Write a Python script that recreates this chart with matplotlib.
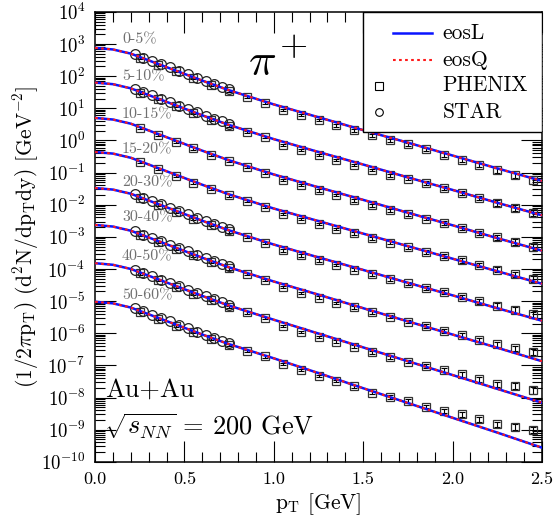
import numpy as np
import matplotlib
matplotlib.use('Agg')
import matplotlib.pyplot as plt
from matplotlib.ticker import LogLocator, MultipleLocator, NullFormatter

plt.rcParams['font.family'] = ['cmr10', 'DejaVu Serif']
plt.rcParams['mathtext.fontset'] = 'cm'
plt.rcParams['axes.formatter.use_mathtext'] = True

centralities = ['0-5%', '5-10%', '10-15%', '15-20%', '20-30%', '30-40%', '40-50%', '50-60%']

# hydro curves (log10 of yield)
pt_curve = [0.0, 0.1, 0.2, 0.3, 0.4, 0.5, 0.6, 0.75, 1.0, 1.25, 1.5, 1.75, 2.0, 2.25, 2.5]
eosL_0_5 = [2.88, 2.83, 2.70, 2.49, 2.28, 2.07, 1.86, 1.56, 1.12, 0.72, 0.32, -0.07, -0.47, -0.87, -1.26]
eosL_5_10 = [1.80, 1.75, 1.62, 1.41, 1.20, 0.99, 0.78, 0.48, 0.04, -0.36, -0.75, -1.15, -1.54, -1.94, -2.33]
eosL_10_15 = [0.70, 0.65, 0.52, 0.31, 0.10, -0.11, -0.32, -0.62, -1.06, -1.46, -1.85, -2.25, -2.64, -3.04, -3.43]
eosL_15_20 = [-0.36, -0.41, -0.54, -0.75, -0.96, -1.17, -1.38, -1.68, -2.12, -2.51, -2.90, -3.29, -3.68, -4.07, -4.46]
eosL_20_30 = [-1.48, -1.53, -1.66, -1.87, -2.08, -2.29, -2.50, -2.80, -3.24, -3.64, -4.03, -4.43, -4.82, -5.22, -5.61]
eosL_30_40 = [-2.63, -2.68, -2.81, -3.02, -3.23, -3.44, -3.65, -3.95, -4.39, -4.80, -5.22, -5.63, -6.04, -6.45, -6.87]
eosL_40_50 = [-3.82, -3.87, -4.00, -4.21, -4.42, -4.63, -4.84, -5.14, -5.58, -6.01, -6.44, -6.87, -7.30, -7.73, -8.16]
eosL_50_60 = [-5.02, -5.07, -5.20, -5.41, -5.62, -5.83, -6.04, -6.34, -6.78, -7.24, -7.71, -8.17, -8.63, -9.09, -9.56]
eosL = [eosL_0_5, eosL_5_10, eosL_10_15, eosL_15_20, eosL_20_30, eosL_30_40, eosL_40_50, eosL_50_60]
# eosQ is indistinguishable from eosL at this resolution
eosQ = eosL

# PHENIX data (log10)
pt_phenix = [0.25, 0.35, 0.45, 0.55, 0.65, 0.75, 0.85, 0.95, 1.05, 1.15, 1.25, 1.35,
             1.45, 1.55, 1.65, 1.75, 1.85, 1.95, 2.05, 2.15, 2.25, 2.35, 2.45]
phenix_0_5 = [2.57, 2.36, 2.15, 1.94, 1.73, 1.53, 1.35, 1.18, 0.95, 0.79, 0.63, 0.47, 0.31, 0.16, 0.00, -0.12, -0.28, -0.44, -0.60, -0.76, -0.92, -1.08, -1.24]
phenix_5_10 = [1.49, 1.28, 1.07, 0.86, 0.65, 0.45, 0.27, 0.10, -0.13, -0.29, -0.45, -0.60, -0.76, -0.92, -1.08, -1.19, -1.33, -1.48, -1.63, -1.78, -1.94, -2.09, -2.25]
phenix_10_15 = [0.39, 0.18, -0.04, -0.25, -0.45, -0.65, -0.83, -1.00, -1.23, -1.39, -1.55, -1.70, -1.86, -2.02, -2.18, -2.29, -2.43, -2.57, -2.72, -2.87, -3.02, -3.16, -3.32]
phenix_15_20 = [-0.68, -0.89, -1.10, -1.31, -1.51, -1.71, -1.89, -2.06, -2.29, -2.44, -2.60, -2.75, -2.89, -3.04, -3.18, -3.32, -3.46, -3.59, -3.73, -3.87, -4.02, -4.16, -4.30]
phenix_20_30 = [-1.80, -2.01, -2.22, -2.43, -2.63, -2.83, -3.01, -3.18, -3.42, -3.58, -3.73, -3.87, -4.02, -4.16, -4.31, -4.45, -4.58, -4.72, -4.86, -5.00, -5.14, -5.27, -5.41]
phenix_30_40 = [-2.95, -3.16, -3.37, -3.58, -3.78, -3.98, -4.16, -4.33, -4.57, -4.74, -4.89, -5.05, -5.19, -5.35, -5.49, -5.64, -5.78, -5.93, -6.06, -6.20, -6.33, -6.46, -6.58]
phenix_40_50 = [-4.14, -4.35, -4.56, -4.77, -4.97, -5.17, -5.35, -5.52, -5.77, -5.95, -6.12, -6.26, -6.42, -6.59, -6.74, -6.88, -7.01, -7.14, -7.28, -7.43, -7.59, -7.64, -7.77]
phenix_50_60 = [-5.34, -5.55, -5.76, -5.97, -6.17, -6.37, -6.55, -6.72, -6.96, -7.15, -7.33, -7.49, -7.65, -7.85, -7.98, -8.11, -8.28, -8.42, -8.52, -8.67, -8.83, -8.91, -9.01]
phenix = [phenix_0_5, phenix_5_10, phenix_10_15, phenix_15_20, phenix_20_30, phenix_30_40, phenix_40_50, phenix_50_60]
phenix_relerr = [0.08, 0.08, 0.08, 0.08, 0.08, 0.08, 0.08, 0.08, 0.08, 0.08, 0.09, 0.09,
                 0.10, 0.10, 0.11, 0.12, 0.13, 0.14, 0.15, 0.16, 0.18, 0.20, 0.22]

# STAR data (log10), no 10-15% and 15-20%
pt_star = [0.225, 0.27, 0.32, 0.37, 0.42, 0.47, 0.52, 0.57, 0.62, 0.665, 0.71, 0.75]
star_0_5 = [2.68, 2.58, 2.48, 2.37, 2.27, 2.16, 2.06, 1.95, 1.85, 1.76, 1.67, 1.59]
star_5_10 = [1.60, 1.50, 1.40, 1.29, 1.19, 1.08, 0.98, 0.87, 0.77, 0.68, 0.59, 0.51]
star_20_30 = [-1.68, -1.78, -1.88, -1.99, -2.09, -2.20, -2.30, -2.41, -2.51, -2.60, -2.69, -2.77]
star_30_40 = [-2.83, -2.93, -3.03, -3.14, -3.24, -3.35, -3.45, -3.56, -3.66, -3.75, -3.84, -3.92]
star_40_50 = [-4.02, -4.12, -4.22, -4.33, -4.43, -4.54, -4.64, -4.75, -4.85, -4.94, -5.03, -5.11]
star_50_60 = [-5.22, -5.32, -5.42, -5.53, -5.63, -5.74, -5.84, -5.95, -6.05, -6.14, -6.23, -6.31]
star = [star_0_5, star_5_10, star_20_30, star_30_40, star_40_50, star_50_60]

label_logy = [3.13, 1.98, 0.80, -0.29, -1.32, -2.41, -3.62, -4.81]

fig = plt.figure(figsize=(5.53, 5.16), dpi=100)
ax = fig.add_axes([0.172, 0.105, 0.808, 0.872])
ax.set_yscale('log')

for i in range(len(centralities)):
    y = 10.0 ** np.array(phenix[i])
    ax.errorbar(pt_phenix, y, yerr=y * np.array(phenix_relerr), fmt='none',
                ecolor='black', elinewidth=0.8, capsize=2.2, capthick=0.8, zorder=2)
    ax.plot(pt_phenix, y, 's', ms=6.2, mfc='none', mec='#333333', mew=0.9, zorder=2)
    ax.plot(pt_curve, 10.0 ** np.array(eosL[i]), '-', color='#0a14ff', lw=1.8, zorder=3)
    ax.plot(pt_curve, 10.0 ** np.array(eosQ[i]), color='#ff1a1a', lw=1.5,
            ls=(0, (1.3, 1.6)), zorder=4)
    ax.text(0.15, 10 ** label_logy[i], centralities[i], color='#707070',
            fontsize=11.5, va='center', ha='left')

for s in star:
    ax.plot(pt_star, 10.0 ** np.array(s), 'o', ms=7, mfc='none', mec='#222222',
            mew=0.9, zorder=2)

ax.set_xlim(0, 2.5)
ax.set_ylim(1e-10, 1e4)
ax.xaxis.set_major_locator(MultipleLocator(0.5))
ax.xaxis.set_minor_locator(MultipleLocator(0.1))
ax.xaxis.set_major_formatter(plt.FuncFormatter(lambda v, p: '%.1f' % v))
ax.yaxis.set_major_locator(LogLocator(base=10, numticks=30))
ax.yaxis.set_minor_locator(LogLocator(base=10, subs=np.arange(2, 10), numticks=30))
ax.yaxis.set_minor_formatter(NullFormatter())
ax.tick_params(which='both', direction='in', top=True, right=True, width=0.8)
ax.tick_params(axis='x', labelsize=13)
ax.tick_params(axis='y', labelsize=13.5)
ax.tick_params(which='major', length=15, pad=7)
ax.tick_params(which='minor', length=7.5)
for sp in ax.spines.values():
    sp.set_linewidth(1.1)

ax.set_xlabel(r'p$_{\rm T}$ [GeV]', fontsize=15.5, labelpad=3)
ax.set_ylabel(r'(1/2$\pi$p$_{\rm T}$) (d$^2$N/dp$_{\rm T}$dy) [GeV$^{-2}$]', fontsize=15.5, labelpad=0)

# pi^+ title, the plus sign is drawn large as in the original
ax.text(0.374, 0.887, r'$\pi$', transform=ax.transAxes, fontsize=33, ha='center', va='center')
ax.text(0.444, 0.924, r'$+$', transform=ax.transAxes, fontsize=26, ha='center', va='center')
ax.text(0.022, 0.16, 'Au+Au', transform=ax.transAxes, fontsize=19, va='center')
ax.text(0.02, 0.08, r'$\sqrt{s_{NN}}$ = 200 GeV', transform=ax.transAxes, fontsize=19, va='center')

# legend box drawn in axes coordinates
ax.add_patch(plt.Rectangle((0.6, 0.733), 0.4, 0.267, transform=ax.transAxes,
                           fc='white', ec='black', lw=1.0, zorder=10))
rows = [0.953, 0.893, 0.836, 0.778]
ax.plot([0.667, 0.754], [rows[0]] * 2, transform=ax.transAxes, color='#0a14ff', lw=1.8, zorder=11)
ax.plot([0.667, 0.754], [rows[1]] * 2, transform=ax.transAxes, color='#ff1a1a', lw=1.5,
        ls=(0, (1.3, 1.6)), zorder=11)
ax.plot([0.635], [rows[2]], 's', transform=ax.transAxes, ms=5.5, mfc='none', mec='black', mew=0.8, zorder=11)
ax.plot([0.635], [rows[3]], 'o', transform=ax.transAxes, ms=5.5, mfc='none', mec='black', mew=0.8, zorder=11)
for r, t in zip(rows, ['eosL', 'eosQ', 'PHENIX', 'STAR']):
    ax.text(0.778, r, t, transform=ax.transAxes, fontsize=15.5, va='center', zorder=12)

fig.savefig('out.png', dpi=100)
